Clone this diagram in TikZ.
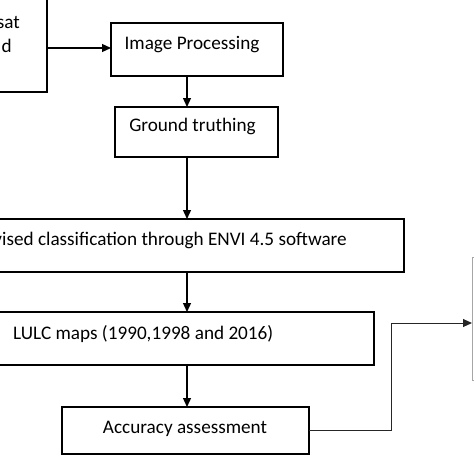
\documentclass[tikz,border=0pt]{standalone}
\usepackage{fontspec}
\setmainfont{Carlito}
\usepackage{xcolor}
\usetikzlibrary{arrows.meta}

\tikzset{
	box/.style={draw=black, line width=1.4pt, inner sep=0pt, outer sep=0pt, text height=9pt, text depth=9pt},
	arr/.style={-{Triangle[length=9pt,width=8pt]}, line width=1.3pt},
	txt/.style={inner sep=0pt, text=black}
}

\begin{document}
\begin{tikzpicture}[x=1pt, y=-1pt, font=\fontsize{19.2}{24}\selectfont]
	\useasboundingbox (0,0) rectangle (474,474);
	\begin{scope}
		\clip (0,0) rectangle (474,474);

		\node[box, minimum width=107, minimum height=102] (landsat) at (-6.5,41) {};
		\node[txt, anchor=base east] (landsatA) at (20,28) {Landsat};
		\node[txt, anchor=base east] (landsatB) at (12,52) {d};

		\node[box, minimum width=172, minimum height=53] (improc) at (197,49.5) {};
		\node[txt, anchor=base] (improcT) at (192,49) {Image Processing};
		\node[box, minimum width=163, minimum height=50] (ground) at (196.5,132) {};
		\node[txt, anchor=base] (groundT) at (192.5,131) {Ground truthing};

		\node[box, minimum width=444, minimum height=53] (superv) at (182,245.5) {};
		\node[txt, anchor=base east] (supervT) at (347,245) {Supervised classification through ENVI 4.5 software};

		\node[box, minimum width=414, minimum height=53] (lulc) at (167,338.5) {};
		\node[txt, anchor=base west] (lulcT) at (13,339) {LULC maps (1990,1998 and 2016)};

		\node[box, minimum width=247, minimum height=47] (acc) at (185.5,430.5) {};
		\node[txt, anchor=base] (accT) at (185,433) {Accuracy assessment};

		\node[draw=black!35, line width=1pt, minimum width=60, minimum height=123, inner sep=0pt, outer sep=0pt] (result) at (502,318.5) {};

		\coordinate (spine) at (187,0);
		\coordinate (bend) at (391,323);

		\draw[arr] (landsat.east |- 0,48) -- (improc.west |- 0,48);
		\draw[arr] (improc.south -| spine) -- (ground.north -| spine);
		\draw[arr] (ground.south -| spine) -- (superv.north -| spine);
		\draw[arr] (superv.south -| spine) -- (lulc.north -| spine);
		\draw[arr] (lulc.south -| spine) -- (acc.north -| spine);

		\draw[arr, line width=1pt, black!85] (acc.east) -| (bend) -- (result.west |- bend);
	\end{scope}
\end{tikzpicture}
\end{document}
